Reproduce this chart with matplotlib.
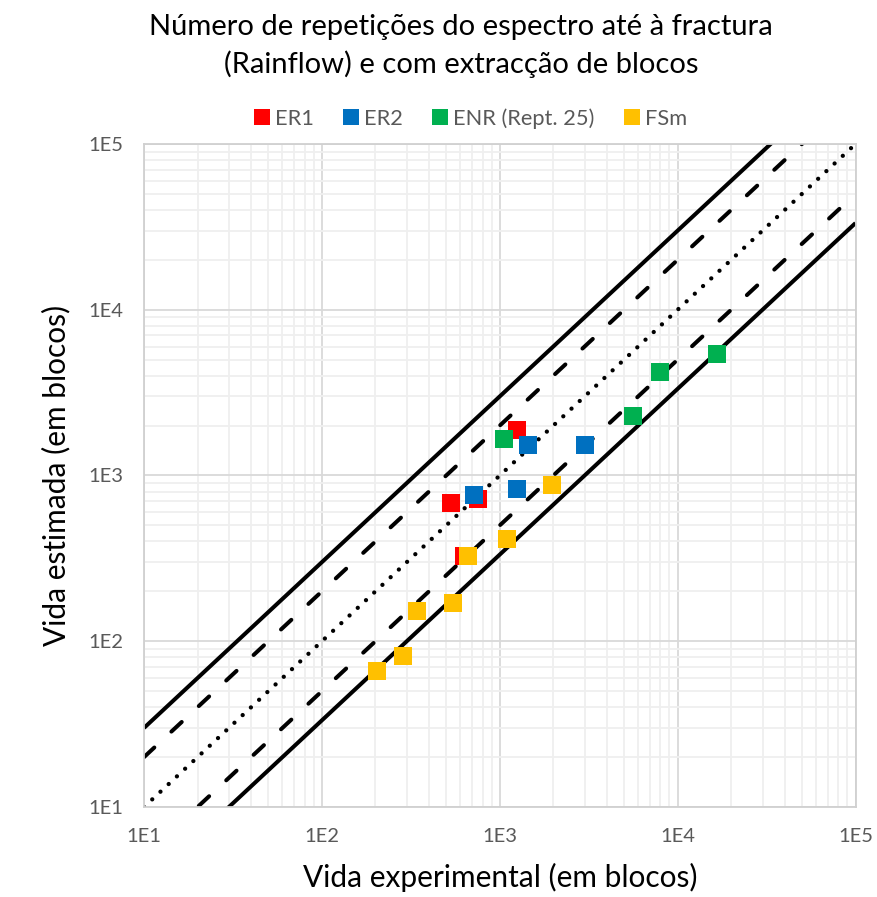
import numpy as np
import matplotlib.pyplot as plt
from matplotlib.lines import Line2D
from matplotlib.ticker import LogLocator, FixedLocator

plt.rcParams['font.family'] = ['Lato', 'DejaVu Sans']

# data (experimental life, estimated life)
er1_exp = [1246, 530, 754, 626]
er1_est = [1885, 685, 724, 328]

er2_exp = [1437, 3008, 714, 1246]
er2_est = [1531, 1531, 765, 832]

enr_exp = [1053, 5601, 7945, 16630]
enr_est = [1664, 2288, 4213, 5408]

fsm_exp = [1962, 1095, 661, 341, 544, 285, 203]
fsm_est = [879, 416, 328, 153, 169, 81, 66.6]

series_names = ['ER1', 'ER2', 'ENR (Rept. 25)', 'FSm']
series_colors = ['#ff0000', '#0070c0', '#00b050', '#ffc000']

# scatter band factors
band_factors = [3, 2, 1, 1 / 2, 1 / 3]

tick_values = [1e1, 1e2, 1e3, 1e4, 1e5]
tick_labels = ['1E1', '1E2', '1E3', '1E4', '1E5']

fig = plt.figure(figsize=(8.77, 8.97), dpi=100)
ax = fig.add_axes([0.1642, 0.1003, 0.8113, 0.7392])

x_line = np.array([1e1, 1e5])
lw = 2.9
for k in band_factors:
    if k in (3, 1 / 3):
        ax.plot(x_line, k * x_line, color='black', lw=lw, solid_capstyle='butt', zorder=2)
    elif k in (2, 1 / 2):
        ax.plot(x_line, k * x_line, color='black', lw=lw, dashes=(3.5, 5.8),
                dash_capstyle='round', zorder=2)
    else:
        ax.plot(x_line, k * x_line, color='black', lw=3.1, dashes=(0.01, 2.6),
                dash_capstyle='round', zorder=2)

all_exp = [er1_exp, er2_exp, enr_exp, fsm_exp]
all_est = [er1_est, er2_est, enr_est, fsm_est]
for xs, ys, c in zip(all_exp, all_est, series_colors):
    ax.plot(xs, ys, 's', color=c, markersize=12.3, markeredgewidth=0, zorder=3)

ax.set_xscale('log')
ax.set_yscale('log')
ax.set_xlim(1e1, 1e5)
ax.set_ylim(1e1, 1e5)

for axis in (ax.xaxis, ax.yaxis):
    axis.set_major_locator(FixedLocator(tick_values))
    axis.set_minor_locator(LogLocator(base=10, subs=np.arange(2, 10), numticks=20))
ax.set_xticks(tick_values, tick_labels)
ax.set_yticks(tick_values, tick_labels)
ax.tick_params(which='both', length=0)
ax.tick_params(which='major', labelsize=14.5, labelcolor='#595959', pad=15)
ax.grid(which='major', color='#d9d9d9', lw=1.3, zorder=0)
ax.grid(which='minor', color='#efefef', lw=1.3, zorder=0)
ax.set_axisbelow(True)
for s in ax.spines.values():
    s.set_color('#d0d0d0')
    s.set_linewidth(1.3)

ax.set_xlabel('Vida experimental (em blocos)', fontsize=21.5, color='black', labelpad=13)
ax.set_ylabel('Vida estimada (em blocos)', fontsize=21.5, color='black', labelpad=13)

fig.text(0.526, 0.984, 'Número de repetições do espectro até à fractura\n(Rainflow) e com extracção de blocos',
         ha='center', va='top', fontsize=21, linespacing=1.45)

handles = [Line2D([], [], marker='s', ls='', color=c, markersize=12, markeredgewidth=0)
           for c in series_colors]
fig.legend(handles, series_names, loc='center', bbox_to_anchor=(0.536, 0.868), ncol=4,
           frameon=False, fontsize=15.7, labelcolor='#595959', handletextpad=0.2,
           columnspacing=1.3, handlelength=0.8)

fig.savefig('out.png', dpi=100)
